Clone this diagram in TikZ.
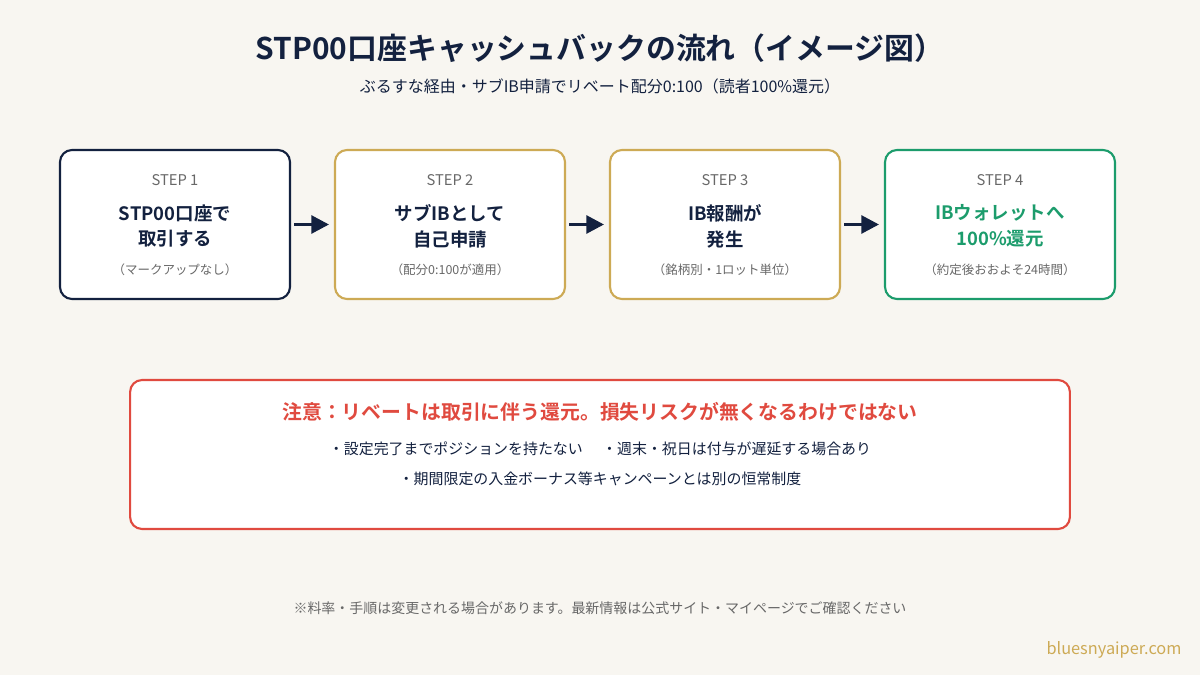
\documentclass[tikz,border=0pt]{standalone}
\usepackage{fontspec}
\setmainfont{Noto Sans CJK JP}[BoldFont={Noto Sans CJK JP Bold}]
\usetikzlibrary{arrows.meta}

\definecolor{bgcol}{HTML}{F8F6F1}
\definecolor{navy}{HTML}{13213F}
\definecolor{gold}{HTML}{CDAA55}
\definecolor{okgreen}{HTML}{1C9C6C}
\definecolor{warnred}{HTML}{E04A3F}
\definecolor{greytext}{HTML}{686868}

\tikzset{
  stepbox/.style={draw, line width=1.2pt, rounded corners=6.8pt, fill=white,
    minimum width=4.6cm, minimum height=2.98cm},
  steplabel/.style={text=greytext, font=\fontsize{8.4}{10}\selectfont},
  stepmain/.style={text=navy, align=center, font=\bfseries\fontsize{10.5}{14.7}\selectfont},
  stepnote/.style={text=greytext, font=\fontsize{7.1}{8.5}\selectfont},
  flow/.style={line width=2pt, navy, -{Triangle[length=10pt,width=10pt]},
    shorten <=1.7pt, shorten >=2.8pt},
}

\begin{document}
\begin{tikzpicture}[x=0.02cm, y=-0.02cm]

  \fill [bgcol] (0, 0) rectangle (1200, 675);

  % title
  \node [text=navy, font=\bfseries\fontsize{17}{20}\selectfont] (title) at (600, 48)
    {STP00口座キャッシュバックの流れ（イメージ図）};
  \node [text=navy, font=\fontsize{9.1}{11}\selectfont] (subtitle) at (600, 86)
    {ぶるすな経由・サブIB申請でリベート配分0:100（読者100\%還元）};

  % steps
  \node [stepbox, draw=navy] (step1) at (175, 224.5) {};
  \node [stepbox, draw=gold] (step2) at (450, 224.5) {};
  \node [stepbox, draw=gold] (step3) at (725, 224.5) {};
  \node [stepbox, draw=okgreen] (step4) at (1000, 224.5) {};

  \node [steplabel] (lab1) at (175, 180) {STEP 1};
  \node [steplabel] (lab2) at (450, 180) {STEP 2};
  \node [steplabel] (lab3) at (725, 180) {STEP 3};
  \node [steplabel] (lab4) at (1000, 180) {STEP 4};

  \node [stepmain] (main1) at (175, 226) {STP00口座で\\取引する};
  \node [stepmain] (main2) at (450, 226) {サブIBとして\\自己申請};
  \node [stepmain] (main3) at (725, 226) {IB報酬が\\発生};
  \node [stepmain, text=okgreen] (main4) at (1000, 226) {IBウォレットへ\\100\%還元};

  \node [stepnote] (note1) at (175, 270) {（マークアップなし）};
  \node [stepnote] (note2) at (450, 270) {（配分0:100が適用）};
  \node [stepnote] (note3) at (725, 270) {（銘柄別・1ロット単位）};
  \node [stepnote] (note4) at (1000, 270) {（約定後おおよそ24時間）};

  \draw [flow] (step1) -- (step2);
  \draw [flow] (step2) -- (step3);
  \draw [flow] (step3) -- (step4);

  % caution
  \node [draw=warnred, line width=1.2pt, rounded corners=6.8pt, fill=white,
    minimum width=18.8cm, minimum height=2.98cm] (warnbox) at (600, 454.5) {};
  \node [text=warnred, font=\bfseries\fontsize{11.3}{13}\selectfont] (warntitle) at (600, 412)
    {注意：リベートは取引に伴う還元。損失リスクが無くなるわけではない};
  \node [text=navy, font=\fontsize{8.5}{10}\selectfont] (warn1) at (600, 449)
    {・設定完了までポジションを持たない\hspace{1.3em}・週末・祝日は付与が遅延する場合あり};
  \node [text=navy, font=\fontsize{8.5}{10}\selectfont] (warn2) at (600, 479)
    {・期間限定の入金ボーナス等キャンペーンとは別の恒常制度};

  % footer
  \node [text=greytext, font=\fontsize{7.95}{9}\selectfont] (footer) at (600, 608)
    {※料率・手順は変更される場合があります。最新情報は公式サイト・マイページでご確認ください};
  \node [text=gold, font=\fontsize{9.3}{11}\selectfont] (site) at (1114, 650) {bluesnyaiper.com};

\end{tikzpicture}
\end{document}
